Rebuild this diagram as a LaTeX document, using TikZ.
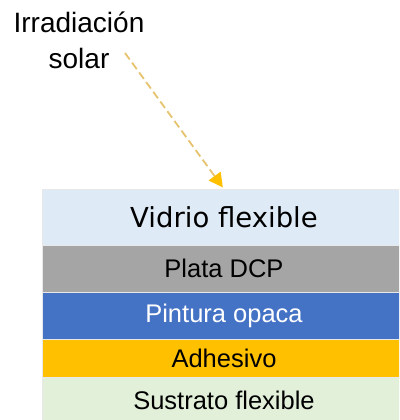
\documentclass[tikz,border=0pt]{standalone}
\usepackage{fontspec}
\setmainfont{Liberation Sans}
\newfontfamily\vidriofont{DejaVu Sans}
\usetikzlibrary{arrows.meta,positioning}

\definecolor{vidrio}{HTML}{DEEBF7}
\definecolor{plata}{HTML}{A5A5A5}
\definecolor{pintura}{HTML}{4472C4}
\definecolor{adhesivo}{HTML}{FFC000}
\definecolor{sustrato}{HTML}{E2F0D9}
\definecolor{rayo}{RGB}{230,195,110}

\begin{document}
\begin{tikzpicture}[
  x=1pt, y=1pt,
  font=\fontsize{25.5}{30}\selectfont,
  layer/.style={draw=white!82!gray, line width=0.8pt, minimum width=364pt, inner sep=0pt, outer sep=0pt},
  ray/.style={draw=rayo, line width=1.8pt, dash pattern=on 8pt off 4pt,
    -{Triangle[length=14pt,width=15pt,color=adhesivo,fill=adhesivo,line width=0pt]}, shorten >=2pt}
]
\clip (0,0) rectangle (399,-420);

% etiqueta
\node[align=center, anchor=base, font=\fontsize{28}{36}\selectfont] (irrad) at (79,-69) {Irradiación\\solar};

% capas
\node[layer, anchor=north west, fill=vidrio, minimum height=56pt, font=\vidriofont\fontsize{27.5}{30}\selectfont] (vidrio) at (42,-189) {Vidrio flexible};
\node[layer, fill=plata, minimum height=47pt, below=0pt of vidrio] (plata) {Plata DCP};
\node[layer, fill=pintura, minimum height=47pt, text=white, below=0pt of plata] (pintura) {Pintura opaca};
\node[layer, fill=adhesivo, minimum height=38pt, below=0pt of pintura] (adhesivo) {Adhesivo};
\node[layer, fill=sustrato, minimum height=46pt, below=0pt of adhesivo] (sustrato) {Sustrato flexible};

% rayo de sol
\coordinate (sol) at (125,-53);
\draw[ray] (sol) -- (vidrio.north);
\end{tikzpicture}
\end{document}
